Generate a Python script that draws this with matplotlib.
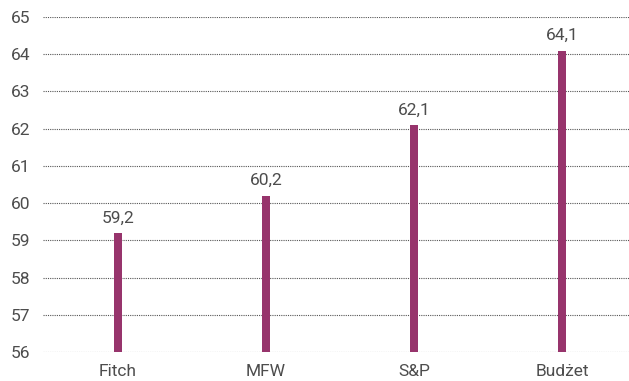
import numpy as np
import matplotlib
matplotlib.use("Agg")
import matplotlib.pyplot as plt

# data
categories = ["Fitch", "MFW", "S&P", "Budżet"]
values = [59.2, 60.2, 62.1, 64.1]
yticks = [56, 57, 58, 59, 60, 61, 62, 63, 64, 65]

plt.rcParams['font.family'] = ['Roboto', 'DejaVu Sans']

fig = plt.figure(figsize=(6.29, 3.81), dpi=100)
ax = fig.add_axes([43/629, 1 - 352/381, 1 - 43/629, (352 - 17)/381])

x = np.arange(len(categories))
ax.bar(x, [v - 56 for v in values], bottom=56, width=0.055, color="#97346C", zorder=3)

for xi, v in zip(x, values):
    ax.text(xi, v + 0.2, f"{v:.1f}".replace(".", ","), ha="center", va="bottom",
            fontsize=12.5, color="#4d4d4d")

ax.set_ylim(56, 65)
ax.set_xlim(-0.505, 3.45)
ax.set_yticks(yticks)
ax.set_xticks(x)
ax.set_xticklabels(categories)
ax.yaxis.grid(True, linestyle=(0, (1, 1)), color="#555555", linewidth=0.8, zorder=0)
for s in ax.spines.values():
    s.set_visible(False)
ax.tick_params(length=0, labelsize=12.5, colors="#4d4d4d")
ax.tick_params(axis="y", pad=9)
ax.tick_params(axis="x", pad=9)

fig.savefig("out.png", dpi=100)
